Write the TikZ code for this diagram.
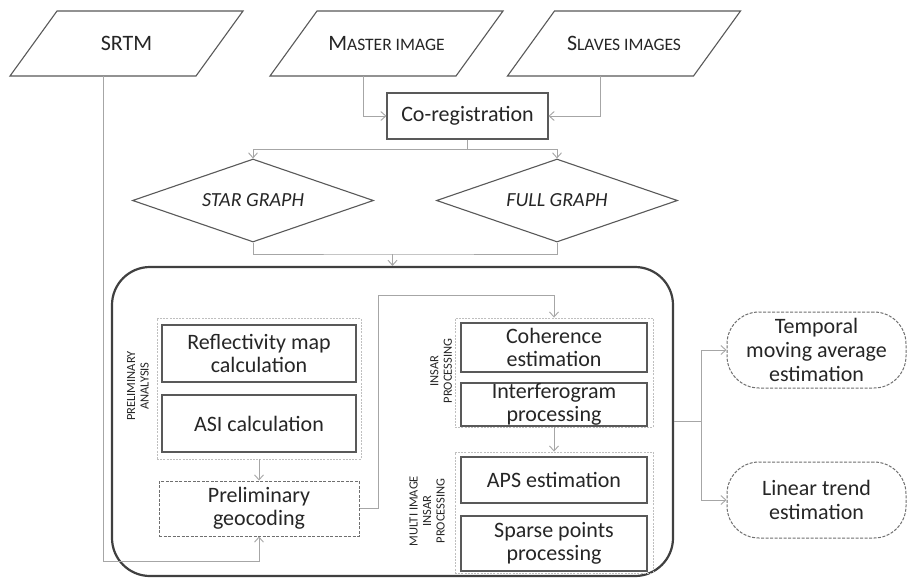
\documentclass[tikz,border=0pt]{standalone}
\usepackage{fontspec}
\setmainfont{Carlito}
\usetikzlibrary{shapes.geometric,arrows.meta,calc}

\definecolor{inkc}{HTML}{262626}
\definecolor{edgec}{HTML}{595959}
\definecolor{linkc}{HTML}{A6A6A6}
\definecolor{framec}{HTML}{404040}
\definecolor{grpc}{HTML}{BFBFBF}
\definecolor{dashc}{HTML}{6F6F6F}

% fake small capitals: first letter full size, rest reduced
\newcommand{\capsmall}[2]{#1{\fontsize{17.5}{20}\selectfont #2}}

% slanted data frame drawn around a text node
\newcommand{\paraframe}[1]{%
  \draw[edgeline] ($(#1.center)+(-69.5,-32.5)$) -- ($(#1.center)+(116.5,-32.5)$)
    -- ($(#1.center)+(69.5,32.5)$) -- ($(#1.center)+(-116.5,32.5)$) -- cycle;
  \coordinate (#1out) at ($(#1.center)+(-23.5,32.5)$);}

\tikzset{
  txt/.style={text=inkc, font=\fontsize{22}{23}\selectfont, align=center},
  edgeline/.style={draw=edgec, line width=1.1pt, line join=miter},
  paratext/.style={inner sep=0pt, txt},
  dia/.style={diamond, aspect=2.9, draw=edgec, line width=1.1pt,
    minimum width=241pt, minimum height=83pt, inner sep=0pt, txt,
    font=\fontsize{20}{22}\selectfont\itshape},
  stepbox/.style={rectangle, draw=edgec, line width=1.1pt, inner sep=0pt, txt},
  grp/.style={rectangle, draw=grpc, line width=0.9pt, dash pattern=on 2pt off 1.2pt, inner sep=0pt},
  dbox/.style={rectangle, draw=dashc, line width=1pt, dash pattern=on 3pt off 1.5pt, inner sep=0pt, txt},
  outbox/.style={rectangle, rounded corners=32pt, draw=dashc, line width=1pt,
    dash pattern=on 3pt off 1.5pt, inner sep=0pt, txt, font=\fontsize{22}{24}\selectfont,
    minimum width=179pt, minimum height=76pt},
  lab/.style={text=inkc, font=\fontsize{12.5}{13.5}\selectfont, align=center, inner sep=0pt},
  conn/.style={draw=linkc, line width=0.9pt},
  arr/.style={conn, -{Straight Barb[length=5pt,width=9pt]}},
}

\begin{document}
\begin{tikzpicture}[x=1pt,y=-1pt]
\useasboundingbox[fill=white] (0,0) rectangle (909,579);

% input data
\node[paratext] (srtm) at (126.5,43.5) {SRTM};
\node[paratext] (master) at (386.5,43.5) {\capsmall{M}{ASTER IMAGE}};
\node[paratext] (slaves) at (624,43.5) {\capsmall{S}{LAVES IMAGES}};
\paraframe{srtm}
\paraframe{master}
\paraframe{slaves}

\node[stepbox, minimum width=161pt, minimum height=46pt] (coreg) at (467.5,116) {Co-registration};

% graph choice
\node[dia] (star) at (253,200.5) {STAR GRAPH};
\node[dia] (full) at (557,200.5) {FULL GRAPH};

% main processing frame
\node[draw=framec, line width=2.2pt, rounded corners=38pt,
      minimum width=561pt, minimum height=309pt, inner sep=0pt] (proc) at (392.5,421.5) {};

% preliminary analysis
\node[grp, minimum width=204pt, minimum height=141pt] (pre) at (259,388.5) {};
\node[stepbox, minimum width=194pt, minimum height=57pt] (refl) at (259,353.5) {Reflectivity map\\calculation};
\node[stepbox, minimum width=194pt, minimum height=57pt] (asi) at (259,423.5) {ASI calculation};
\node[lab, rotate=90] (prelab) at (138,386) {PRELIMINARY\\ANALYSIS};
\node[dbox, minimum width=200pt, minimum height=55pt] (geo) at (259,508.5) {Preliminary\\geocoding};

% InSAR processing
\node[grp, minimum width=198pt, minimum height=109pt] (insar) at (554,372.5) {};
\node[stepbox, minimum width=186pt, minimum height=49pt] (coh) at (554,347.5) {Coherence\\estimation};
\node[stepbox, minimum width=186pt, minimum height=43pt] (intf) at (554,404.5) {Interferogram\\processing};
\node[lab, rotate=90] (insarlab) at (441,371) {INSAR\\PROCESSING};

% multi image InSAR processing
\node[grp, minimum width=198pt, minimum height=121pt] (multi) at (554,512.5) {};
\node[stepbox, minimum width=186pt, minimum height=46pt] (aps) at (554,480) {APS estimation};
\node[stepbox, minimum width=186pt, minimum height=55pt] (sparse) at (554,543.5) {Sparse points\\processing};
\node[lab, rotate=90] (multilab) at (427,511) {MULTI IMAGE\\INSAR\\PROCESSING};

% products
\node[outbox] (temp) at (816.5,350) {Temporal\\moving average\\estimation};
\node[outbox] (lin) at (816.5,500) {Linear trend\\estimation};

% connectors
\coordinate (lowrail) at (0,561);
\coordinate (split) at (467.5,149);
\coordinate (merge) at (392.5,254);
\coordinate (hop) at (378,295);
\coordinate (fork) at (701,421.5);

\draw[arr] (masterout) |- (coreg.west);
\draw[arr] (slavesout) |- (coreg.east);
\draw[conn] (coreg.south) -- (split);
\draw[arr] (split) -| (star.north);
\draw[arr] (split) -| (full.north);
\draw[conn] (star.south) |- (merge) -| (full.south);
\draw[arr] (merge) -- (proc.north);
\draw[arr] (srtmout) -- (srtmout |- lowrail) -| (geo.south);
\draw[arr] (pre.south) -- (geo.north);
\draw[arr] (geo.east) -| (hop) -| (insar.north);
\draw[arr] (insar.south) -- (multi.north);
\draw[conn] (proc.east) -- (fork);
\draw[arr] (fork) |- (temp.west);
\draw[arr] (fork) |- (lin.west);
\end{tikzpicture}
\end{document}
